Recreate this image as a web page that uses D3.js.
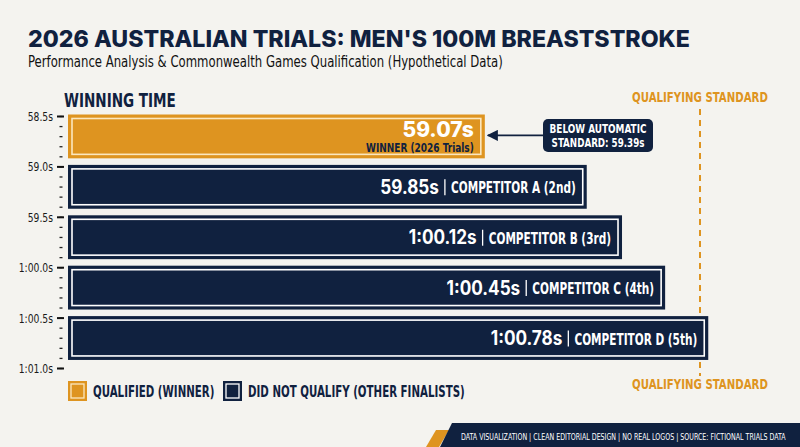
<!DOCTYPE html>
<html>
<head>
<meta charset="utf-8">
<script src="https://cdn.jsdelivr.net/npm/d3@7"></script>
<style>
  body { margin: 0; background: #f4f3ef; }
  svg { display: block; }
  .cond { font-family: 'Liberation Sans Narrow', 'DejaVu Sans Condensed', Roboto, sans-serif; }
</style>
</head>
<body>
<script>
// data
let finalists = ["WINNER (2026 Trials)", "COMPETITOR A (2nd)", "COMPETITOR B (3rd)", "COMPETITOR C (4th)", "COMPETITOR D (5th)"]
let times = [59.07, 59.85, 60.12, 60.45, 60.78]
let qualified = [true, false, false, false, false]
let autoStandard = 59.39
let axisTicks = [58.5, 59.0, 59.5, 60.0, 60.5, 61.0]
let legendLabels = ["QUALIFIED (WINNER)", "DID NOT QUALIFY (OTHER FINALISTS)"]

let w = 800
let h = 447
let navy = "#10213f"
let orange = "#de9420"
let cream = "#fbe7bf"

let svg = d3.select("body").append("svg")
  .attr("width", w)
  .attr("height", h)

svg.append("rect").attr("width", w).attr("height", h).attr("fill", "#f4f3ef")

// narrow a text by factor k with a horizontal scale (no condensed font installed)
let squeeze = (sel, k)=>{
  sel.each(function(){
    let t = d3.select(this)
    let x = +t.attr("x") || 0
    let y = +t.attr("y") || 0
    let old = t.attr("transform") || ""
    t.attr("x", 0).attr("y", 0)
      .attr("transform", old + " translate(" + x + "," + y + ") scale(" + k + ",1)")
  })
  return sel
}
// set a text to a given width
let fit = (sel, width)=>{
  let len = sel.node().getComputedTextLength()
  return squeeze(sel, width / len)
}
let widthOf = (sel, k)=>sel.node().getComputedTextLength() * k

let fmt = (t, dec)=>{
  if (t < 60) return t.toFixed(dec) + "s"
  let s = (t - 60).toFixed(dec)
  if (t - 60 < 10) s = "0" + s
  return "1:" + s + "s"
}

// titles
fit(svg.append("text")
  .text("2026 AUSTRALIAN TRIALS: MEN'S 100M BREASTSTROKE")
  .attr("x", 28).attr("y", 47)
  .attr("font-family", "Inter, 'DejaVu Sans', sans-serif")
  .attr("font-weight", 800)
  .attr("font-size", 23)
  .attr("fill", navy), 662)

fit(svg.append("text")
  .text("Performance Analysis & Commonwealth Games Qualification (Hypothetical Data)")
  .attr("class", "cond")
  .attr("x", 28).attr("y", 67)
  .attr("font-size", 15.5)
  .attr("fill", "#111"), 475)

fit(svg.append("text")
  .text("WINNING TIME")
  .attr("class", "cond")
  .attr("x", 64).attr("y", 106.5)
  .attr("font-size", 20)
  .attr("font-weight", 700)
  .attr("fill", navy), 112)

// scales
let yScale = d3.scaleLinear().domain([58.5, 61.0]).range([116, 368])
let xScale = d3.scaleLinear().domain([55.88, 61.0]).range([68, 737])
let band = d3.scaleBand()
  .domain(finalists)
  .range([yScale(58.5) - 1.5, yScale(61.0) - 1.5])
  .paddingInner(0.13)
  .paddingOuter(0.065)
  .align(0)

// y axis
let minor = svg.append("g")
  .attr("transform", "translate(62.5,0)")
  .call(d3.axisLeft(yScale).ticks(25).tickSize(3).tickFormat(""))
minor.select(".domain").remove()
minor.selectAll("line").attr("stroke", "#222").attr("stroke-width", 1.3)

let yAxis = svg.append("g")
  .attr("transform", "translate(64,0)")
  .call(d3.axisLeft(yScale).tickValues(axisTicks).tickSize(7).tickSizeOuter(0).tickPadding(4)
    .tickFormat((d)=>fmt(d, 1)))
yAxis.select(".domain").remove()
yAxis.selectAll("line").attr("stroke", "#111").attr("stroke-width", 2)
let tickTexts = yAxis.selectAll("text")
  .attr("class", "cond")
  .attr("font-size", 12.5)
  .attr("fill", "#1a1a1a")
  .attr("dy", null)
  .attr("y", 4.5)
squeeze(tickTexts, 0.82)

// standard line (decorative)
let stdX = 700
svg.append("line")
  .attr("x1", stdX).attr("x2", stdX)
  .attr("y1", 109).attr("y2", 376)
  .attr("stroke", orange)
  .attr("stroke-width", 2)
  .attr("stroke-dasharray", "6,5")

let stdLabels = [102, 389]
stdLabels.forEach((yy)=>{
  fit(svg.append("text")
    .text("QUALIFYING STANDARD")
    .attr("class", "cond")
    .attr("x", stdX).attr("y", yy)
    .attr("text-anchor", "middle")
    .attr("font-size", 14.5)
    .attr("font-weight", 700)
    .attr("fill", orange), 136)
})

// bars
let rows = finalists.map((name, i)=>({name: name, time: times[i], q: qualified[i]}))

let bars = svg.selectAll("g.bar")
  .data(rows)
  .enter()
  .append("g")
  .attr("class", "bar")
  .attr("transform", (d)=>"translate(0," + band(d.name) + ")")

bars.append("rect")
  .attr("x", xScale(55.88))
  .attr("width", (d)=>xScale(d.time) - xScale(55.88))
  .attr("height", band.bandwidth())
  .attr("fill", (d)=>d.q ? orange : navy)

bars.append("rect")
  .attr("x", xScale(55.88) + 4)
  .attr("y", 4)
  .attr("width", (d)=>xScale(d.time) - xScale(55.88) - 8)
  .attr("height", band.bandwidth() - 8)
  .attr("fill", "none")
  .attr("stroke", (d)=>d.q ? cream : "#ffffff")
  .attr("stroke-width", 1.6)

// winner labels
let win = bars.filter((d)=>d.q)
win.append("text")
  .text((d)=>fmt(d.time, 2))
  .attr("x", (d)=>xScale(d.time) - 11)
  .attr("y", 22)
  .attr("text-anchor", "end")
  .attr("font-family", "Inter, 'DejaVu Sans', sans-serif")
  .attr("font-weight", 800)
  .attr("font-size", 21)
  .attr("fill", "#fff")
squeeze(win.append("text")
  .text((d)=>d.name)
  .attr("class", "cond")
  .attr("x", (d)=>xScale(d.time) - 11)
  .attr("y", 37)
  .attr("text-anchor", "end")
  .attr("font-weight", 700)
  .attr("font-size", 12.5)
  .attr("fill", navy), 0.8)

// other labels: name at the bar end, then "|", then time
let others = bars.filter((d)=>!d.q)
let midY = band.bandwidth() / 2 + 6.5
others.each(function(d){
  let g = d3.select(this)
  let end = xScale(d.time) - 11
  let name = g.append("text")
    .text(d.name)
    .attr("class", "cond")
    .attr("x", end).attr("y", midY)
    .attr("text-anchor", "end")
    .attr("font-weight", 700)
    .attr("font-size", 15)
    .attr("fill", "#fff")
  let nameW = widthOf(name, 0.78)
  squeeze(name, 0.78)
  let sepX = end - nameW - 6
  g.append("line")
    .attr("x1", sepX).attr("x2", sepX)
    .attr("y1", midY - 14).attr("y2", midY + 2)
    .attr("stroke", "#fff")
    .attr("stroke-width", 1.3)
  squeeze(g.append("text")
    .text(fmt(d.time, 2))
    .attr("x", sepX - 6).attr("y", midY + 0.5)
    .attr("text-anchor", "end")
    .attr("font-family", "Inter, 'DejaVu Sans', sans-serif")
    .attr("font-weight", 700)
    .attr("font-size", 19.5)
    .attr("fill", "#fff"), 0.88)
})

// annotation
let winEnd = xScale(times[0])
let annoY = band(finalists[0]) + band.bandwidth() / 2 - 1
svg.append("defs").append("marker")
  .attr("id", "arrow")
  .attr("viewBox", "0 0 10 10")
  .attr("refX", 9).attr("refY", 5)
  .attr("markerWidth", 7).attr("markerHeight", 7)
  .attr("orient", "auto")
  .append("path")
  .attr("d", "M0,0 L10,5 L0,10 z")
  .attr("fill", navy)

svg.append("line")
  .attr("x1", 543).attr("x2", winEnd + 3)
  .attr("y1", annoY).attr("y2", annoY)
  .attr("stroke", navy)
  .attr("stroke-width", 1.6)
  .attr("marker-end", "url(#arrow)")

svg.append("rect")
  .attr("x", 543).attr("y", annoY - 16.5)
  .attr("width", 110).attr("height", 33)
  .attr("rx", 5)
  .attr("fill", navy)

let anno = ["BELOW AUTOMATIC", "STANDARD: " + autoStandard.toFixed(2) + "s"]
let annoW = [97, 93]
anno.forEach((t, i)=>{
  fit(svg.append("text")
    .text(t)
    .attr("class", "cond")
    .attr("x", 598).attr("y", annoY - 2.5 + i * 14)
    .attr("text-anchor", "middle")
    .attr("font-weight", 700)
    .attr("font-size", 11.5)
    .attr("fill", "#fff"), annoW[i])
})

// legend
let legX = [68, 223]
legendLabels.forEach((t, i)=>{
  let c = i === 0 ? orange : navy
  svg.append("rect")
    .attr("x", legX[i]).attr("y", 381)
    .attr("width", 19).attr("height", 20)
    .attr("fill", c)
  svg.append("rect")
    .attr("x", legX[i] + 3).attr("y", 384)
    .attr("width", 13).attr("height", 14)
    .attr("fill", "none")
    .attr("stroke", i === 0 ? cream : "#fff")
    .attr("stroke-width", 1.3)
  squeeze(svg.append("text")
    .text(t)
    .attr("class", "cond")
    .attr("x", legX[i] + 25).attr("y", 396.5)
    .attr("font-weight", 700)
    .attr("font-size", 15)
    .attr("fill", navy), 0.76)
})

// footer
svg.append("path")
  .attr("d", "M436,430 L449,430 L439,447 L426,447 Z")
  .attr("fill", orange)
svg.append("path")
  .attr("d", "M452,423 L800,423 L800,447 L440,447 Z")
  .attr("fill", navy)
fit(svg.append("text")
  .text("DATA VISUALIZATION | CLEAN EDITORIAL DESIGN | NO REAL LOGOS | SOURCE: FICTIONAL TRIALS DATA")
  .attr("class", "cond")
  .attr("x", 461).attr("y", 439.5)
  .attr("font-size", 9)
  .attr("fill", "#fff"), 325)
</script>
</body>
</html>
